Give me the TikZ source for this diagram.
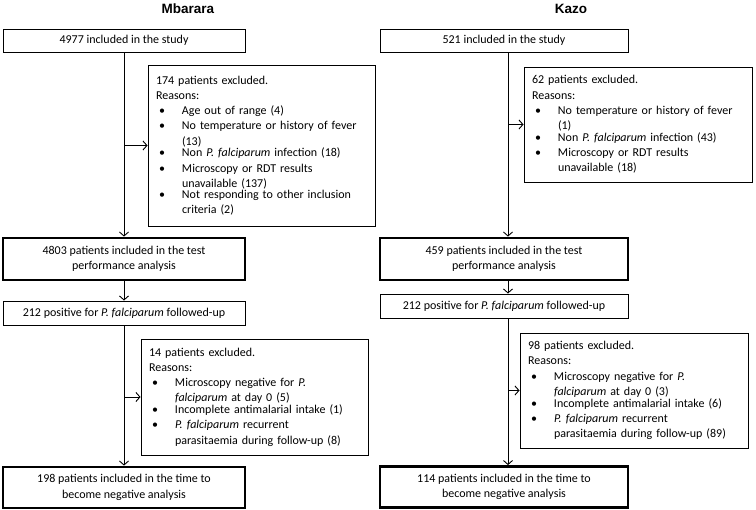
\documentclass[tikz,border=0pt]{standalone}
\usepackage{fontspec}
\setmainfont{Carlito}
\newfontfamily\titlefont{Liberation Sans}
\usetikzlibrary{arrows.meta,calc}
\newcommand{\bitem}[1]{\par\noindent\makebox[26pt][l]{\hspace{3pt}\textbullet}\parbox[t]{185pt}{#1}}
\begin{document}
\begin{tikzpicture}[x=1pt,y=-1pt,
  every node/.style={font=\fontsize{12}{15.3}\selectfont},
  title/.style={font=\titlefont\bfseries\fontsize{13.5}{16}\selectfont},
  box/.style={draw, line width=0.9pt, align=center, inner sep=2pt},
  thickbox/.style={draw, line width=2.8pt, align=center, inner sep=2pt},
  excl/.style={draw, line width=0.9pt, inner xsep=8pt, inner ysep=4pt, align=left},
  arr/.style={line width=0.9pt, -{Straight Barb[length=4pt,width=9pt]}}]
\useasboundingbox (0,0) rectangle (756,510);
% Mbarara
\node[title] (t1) at (188,9) {Mbarara};
\node[box, minimum width=242pt, minimum height=23pt] (a1) at (124,40.5) {4977 included in the study};
\node[excl, text width=211pt, minimum height=161pt] (e1) at (261.5,145.5) {174 patients excluded.\par Reasons:%
\bitem{Age out of range (4)}%
\bitem{No temperature or history of fever\\(13)}%
\bitem{Non \emph{P. falciparum} infection (18)}%
\bitem{Microscopy or RDT results\\unavailable (137)}%
\bitem{Not responding to other inclusion\\criteria (2)}};
\node[thickbox, minimum width=242pt, minimum height=42pt] (a2) at (124,259) {4803 patients included in the test\\performance analysis};
\node[box, minimum width=242pt, minimum height=24pt] (a3) at (124,313) {212 positive for \emph{P. falciparum} followed-up};
\node[excl, text width=211pt, minimum height=116pt] (e2) at (254.5,397) {14 patients excluded.\par Reasons:%
\bitem{Microscopy negative for \emph{P.}\\\emph{falciparum} at day 0 (5)}%
\bitem{Incomplete antimalarial intake (1)}%
\bitem{\emph{P. falciparum} recurrent\\parasitaemia during follow-up (8)}};
\node[thickbox, minimum width=242pt, minimum height=41pt] (a4) at (124,487.5) {198 patients included in the time to\\become negative analysis};
\coordinate (j1) at (a1.south |- e1.west);
\coordinate (j2) at (a3.south |- e2.west);
\draw[arr] (a1.south) -- (a2.north);
\draw[arr] (j1) -- (e1.west);
\draw[arr] (a2.south) -- (a3.north);
\draw[arr] (a3.south) -- (a4.north);
\draw[arr] (j2) -- (e2.west);
% Kazo
\coordinate (kx) at (508,0);
\node[title] (t2) at (571,9) {Kazo};
\node[box, minimum width=248pt, minimum height=23pt] (b1) at (504,40.5) {521 included in the study};
\node[excl, text width=212pt, minimum height=115pt] (f1) at (638,124.5) {62 patients excluded.\par Reasons:%
\bitem{No temperature or history of fever\\(1)}%
\bitem{Non \emph{P. falciparum} infection (43)}%
\bitem{Microscopy or RDT results\\unavailable (18)}};
\node[thickbox, minimum width=248pt, minimum height=42pt] (b2) at (504,259) {459 patients included in the test\\performance analysis};
\node[box, minimum width=248pt, minimum height=24pt] (b3) at (504,306) {212 positive for \emph{P. falciparum} followed-up};
\node[excl, text width=212pt, minimum height=115pt] (f2) at (634,390.5) {98 patients excluded.\par Reasons:%
\bitem{Microscopy negative for \emph{P.}\\\emph{falciparum} at day 0 (3)}%
\bitem{Incomplete antimalarial intake (6)}%
\bitem{\emph{P. falciparum} recurrent\\parasitaemia during follow-up (89)}};
\node[thickbox, minimum width=248pt, minimum height=41pt] (b4) at (504,487) {114 patients included in the time to\\become negative analysis};
\coordinate (k1) at (kx |- f1.west);
\coordinate (k2) at (kx |- f2.west);
\draw[arr] (b1.south -| kx) -- (b2.north -| kx);
\draw[arr] (k1) -- (f1.west);
\draw[arr] (b2.south -| kx) -- (b3.north -| kx);
\draw[arr] (b3.south -| kx) -- (b4.north -| kx);
\draw[arr] (k2) -- (f2.west);
\end{tikzpicture}
\end{document}
